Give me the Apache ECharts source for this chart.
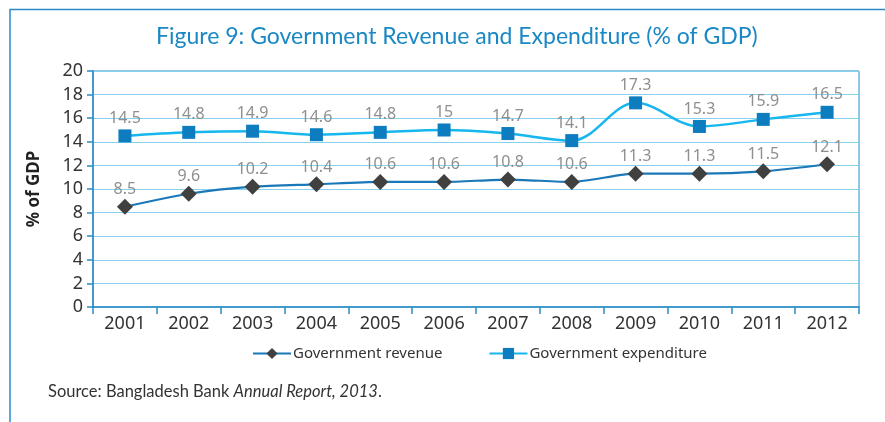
<!DOCTYPE html>
<html>
<head>
<meta charset="utf-8">
<script src="https://cdn.jsdelivr.net/npm/echarts@6/dist/echarts.min.js"></script>
<style>
  html, body { margin: 0; padding: 0; background: #fff; }
  #chart { width: 885px; height: 422px; }
</style>
</head>
<body>
<div id="chart"></div>
<script>
// Fiscal years shown on the category axis
const years = ['2001','2002','2003','2004','2005','2006','2007','2008','2009','2010','2011','2012'];
// Government revenue, % of GDP
const revenue = [8.5, 9.6, 10.2, 10.4, 10.6, 10.6, 10.8, 10.6, 11.3, 11.3, 11.5, 12.1];
// Government expenditure, % of GDP
const expenditure = [14.5, 14.8, 14.9, 14.6, 14.8, 15, 14.7, 14.1, 17.3, 15.3, 15.9, 16.5];
// Value axis ticks
const yTicks = [0, 2, 4, 6, 8, 10, 12, 14, 16, 18, 20];

const titleText = 'Figure 9: Government Revenue and Expenditure (% of GDP)';
const frameColor = '#2b8ac6';
const axisFont = 'Noto Sans, sans-serif';

const chart = echarts.init(document.getElementById('chart'), null, { renderer: 'canvas' });

chart.setOption({
  animation: false,
  backgroundColor: '#ffffff',
  title: {
    text: titleText,
    left: 151,
    top: 20,
    textStyle: { fontFamily: 'Lato, sans-serif', fontSize: 23, fontWeight: 'normal', color: '#1a88c4' }
  },
  grid: {
    left: 93, right: 26, top: 71, bottom: 115,
    show: true, borderColor: frameColor, borderWidth: 1, backgroundColor: 'transparent'
  },
  legend: {
    top: 341,
    left: 247,
    itemWidth: 38,
    itemHeight: 14,
    itemGap: 46,
    textStyle: { fontFamily: axisFont, fontSize: 15, color: '#333', padding: [0, 0, 0, -3] },
    data: ['Government revenue', 'Government expenditure']
  },
  xAxis: {
    type: 'category',
    data: years,
    boundaryGap: true,
    axisLine: { lineStyle: { color: frameColor, width: 1.5 } },
    axisTick: { show: true, length: 7, alignWithLabel: false, lineStyle: { color: frameColor, width: 1.5 } },
    axisLabel: { fontFamily: axisFont, fontSize: 18, color: '#333', margin: 8 }
  },
  yAxis: {
    type: 'value',
    min: yTicks[0],
    max: yTicks[yTicks.length - 1],
    interval: yTicks[1] - yTicks[0],
    name: '% of GDP',
    nameLocation: 'middle',
    nameGap: 50,
    nameRotate: 90,
    nameTextStyle: { fontFamily: axisFont, fontSize: 17, fontWeight: 'bold', color: '#222' },
    axisLine: { show: true, lineStyle: { color: frameColor, width: 1.5 } },
    axisTick: { show: true, length: 6, lineStyle: { color: frameColor, width: 1.5 } },
    axisLabel: { fontFamily: axisFont, fontSize: 18, color: '#333', margin: 10 },
    splitLine: { lineStyle: { color: '#86d2ee', width: 1.2 } }
  },
  series: [
    {
      name: 'Government revenue',
      type: 'line',
      data: revenue,
      smooth: 0.25,
      symbol: 'diamond',
      symbolSize: [16, 16],
      lineStyle: { color: '#1b78b8', width: 2.2 },
      itemStyle: { color: '#404040', borderWidth: 0 },
      label: {
        show: true, position: 'top', distance: 1,
        fontFamily: axisFont, fontSize: 16, color: '#8f8f8f'
      },
      z: 3
    },
    {
      name: 'Government expenditure',
      type: 'line',
      data: expenditure,
      smooth: 0.35,
      symbol: 'rect',
      symbolSize: [13, 13],
      lineStyle: { color: '#16b6ee', width: 2.5 },
      itemStyle: { color: '#0e7dbf', borderWidth: 0 },
      label: {
        show: true, position: 'top', distance: 3,
        fontFamily: axisFont, fontSize: 16, color: '#8f8f8f'
      },
      z: 4
    }
  ],
  graphic: [
    {
      type: 'polyline',
      shape: { points: [[10, 422], [10, 9.5], [885, 9.5]] },
      style: { stroke: frameColor, lineWidth: 1.5, fill: null },
      silent: true
    },
    {
      type: 'text',
      left: 48,
      top: 383,
      style: {
        text: '{n|Source: Bangladesh Bank }{i|Annual Report, 2013}{n|.}',
        rich: {
          n: { fontFamily: 'Lato, sans-serif', fontSize: 16.5, fill: '#333' },
          i: { fontFamily: 'Lato, sans-serif', fontSize: 16.5, fontStyle: 'italic', fill: '#333' }
        }
      }
    }
  ]
});
</script>
</body>
</html>
